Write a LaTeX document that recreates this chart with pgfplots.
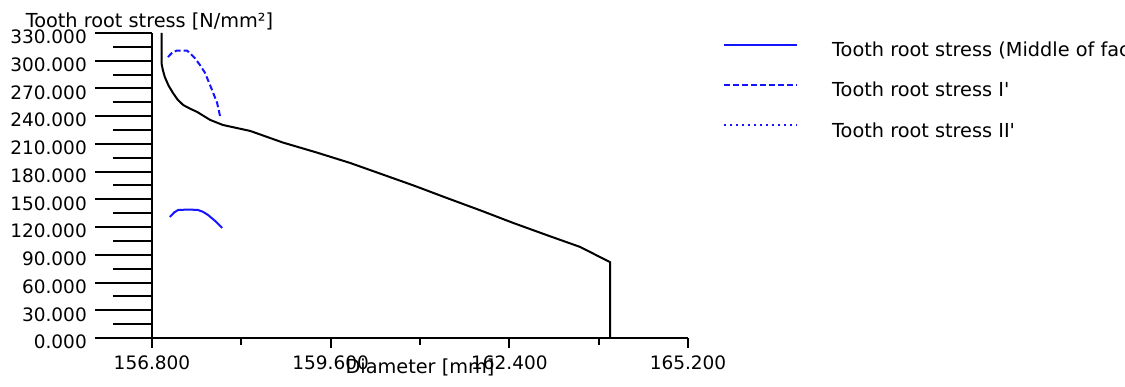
\documentclass[border=0pt]{standalone}
\usepackage{fontspec}
\setmainfont{DejaVu Sans}
\usepackage{pgfplots}
\pgfplotsset{compat=1.18}
\definecolor{plotblue}{RGB}{20,20,255}
\begin{document}
\begin{tikzpicture}
\path[use as bounding box] (0pt,0pt) rectangle (1125pt,387pt);
\pgfplotsset{
  common/.style={
    width=536pt, height=305pt, scale only axis,
    at={(152pt,49pt)}, anchor=south west,
    xmin=156.8, xmax=165.2, ymin=0, ymax=330,
    clip=false, scaled ticks=false,
    font=\fontsize{18.5}{22}\selectfont,
    /pgf/number format/assume math mode=true,
    axis line style={line width=2pt, black},
    tick align=outside,
    tick style={line width=2pt, black},
  }
}
\begin{axis}[common,
  axis x line=none, axis y line*=left,
  ytick={0,30,...,330}, minor ytick={15,45,...,315},
  major tick length=57pt, minor tick length=39pt,
  yticklabel={\pgfmathprintnumber[fixed,fixed zerofill,precision=3]{\tick}},
  yticklabel style={anchor=east, inner sep=0pt, xshift=-8pt, yshift=-4pt},
  ylabel={Tooth root stress [N/mm²]},
  every axis y label/.style={at={(rel axis cs:0,1)}, anchor=base, yshift=5pt, xshift=-2.5pt,
    font=\fontsize{19.3}{22}\selectfont},
  legend style={at={(rel axis cs:1.0653,0.971)}, anchor=north west, draw=none, fill=none,
    inner sep=0pt, row sep=24pt, column sep=34pt, nodes={inner sep=0pt},
    font=\fontsize{19.3}{22}\selectfont},
  legend cell align=left,
  legend image code/.code={\draw[#1] (0pt,5pt) -- (73pt,5pt);},
]
\addplot[black, line width=2pt, forget plot] coordinates {
(156.95,330) (156.95,297) (156.97,290) (157.00,282.5) (157.06,273) (157.13,265)
(157.20,258) (157.29,252) (157.40,248) (157.51,244.5) (157.71,236) (157.91,230.5)
(158.34,224) (158.85,211.5) (159.39,200.5) (159.90,189.5) (160.37,178) (160.90,165)
(161.42,151.5) (161.95,138) (162.46,124.5) (163.00,111) (163.51,98.5) (163.98,82)
(163.98,0)
};
\addplot[plotblue, line width=2pt] coordinates {
(157.08,131) (157.15,136) (157.21,138.5) (157.38,139) (157.52,138.5)
(157.60,136.5) (157.68,133) (157.80,126) (157.90,119)
};
\addlegendentry{Tooth root stress (Middle of face)}
\addplot[plotblue, line width=2pt, dash pattern=on 6pt off 3pt] coordinates {
(157.05,304) (157.12,309) (157.19,311) (157.35,311) (157.47,303) (157.55,295.5)
(157.63,287) (157.74,268.5) (157.82,254.5) (157.87,239)
};
\addlegendentry{Tooth root stress I\textquotesingle}
\addlegendimage{plotblue, line width=2pt, dash pattern=on 2pt off 4pt}
\addlegendentry{Tooth root stress II\textquotesingle}
\end{axis}
\begin{axis}[common,
  axis y line=none, axis x line*=bottom,
  xtick={156.8,159.6,162.4,165.2}, minor xtick={158.2,161.0,163.8},
  major tick length=10pt, minor tick length=7pt,
  xticklabel={\pgfmathprintnumber[fixed,fixed zerofill,precision=3]{\tick}},
  xticklabel style={anchor=north, inner sep=0pt, yshift=-8pt},
  xlabel={Diameter [mm]},
  every axis x label/.style={at={(rel axis cs:0.5,0)}, anchor=center, yshift=-29pt,
    font=\fontsize{19.3}{22}\selectfont},
]
\end{axis}
\end{tikzpicture}
\end{document}
